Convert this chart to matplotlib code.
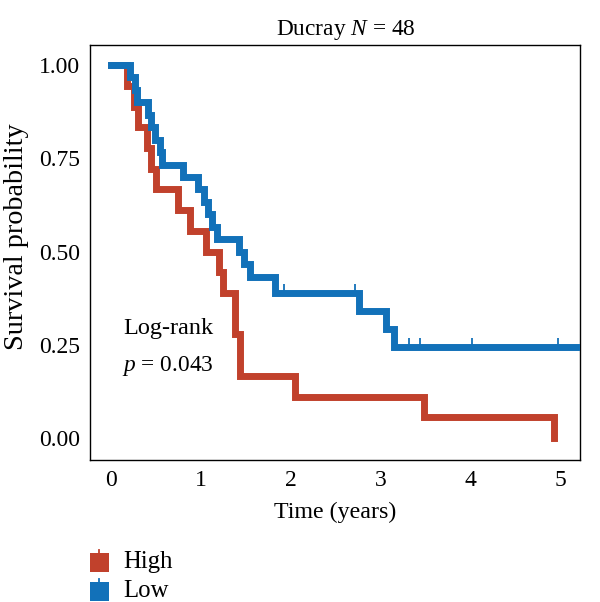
import matplotlib
matplotlib.use("Agg")
import matplotlib.pyplot as plt
from matplotlib.path import Path
from matplotlib.patches import Rectangle
import numpy as np

# Kaplan-Meier steps (time in years, survival after event)
high_times = [0.0, 0.18, 0.26, 0.30, 0.40, 0.44, 0.50, 0.75, 0.88, 1.06, 1.20, 1.25, 1.38, 1.44, 2.05, 3.48, 4.93]
high_surv  = [1.0, 0.944, 0.889, 0.833, 0.778, 0.722, 0.667, 0.611, 0.556, 0.500, 0.444, 0.389, 0.278, 0.167, 0.111, 0.056, 0.0]
high_end = 4.93

low_times = [0.0, 0.21, 0.27, 0.29, 0.41, 0.44, 0.49, 0.55, 0.57, 0.80, 0.97, 1.03, 1.08, 1.12, 1.18, 1.42, 1.48, 1.55, 1.83, 2.76, 3.06, 3.15]
low_surv  = [1.0, 0.967, 0.933, 0.900, 0.867, 0.833, 0.800, 0.767, 0.733, 0.700, 0.667, 0.633, 0.600, 0.567, 0.533, 0.500, 0.467, 0.433, 0.390, 0.341, 0.292, 0.243]
low_end = 5.5
low_censor_times = [1.92, 2.71, 3.32, 3.44, 4.02, 4.98]

group_names = ["High", "Low"]
colors = ["#C1412C", "#1271B9"]

x_ticks = [0, 1, 2, 3, 4, 5]
y_ticks = [0.0, 0.25, 0.5, 0.75, 1.0]
y_ticklabels = ["0.00", "0.25", "0.50", "0.75", "1.00"]

plt.rcParams['font.family'] = ['Liberation Serif', 'DejaVu Serif']
plt.rcParams['mathtext.fontset'] = 'custom'
plt.rcParams['mathtext.it'] = 'Liberation Serif:italic'
plt.rcParams['mathtext.rm'] = 'Liberation Serif'

fig = plt.figure(figsize=(6.0, 6.02), dpi=100)
ax = fig.add_axes([0.15, 0.2359, 0.8167, 0.6893])

def surv_at(times, surv, t):
    idx = np.searchsorted(times, t, side='right') - 1
    return surv[idx]

tick_marker = Path([(0, 0), (0, 1)], [Path.MOVETO, Path.LINETO])

for times, surv, end, col, z in [(high_times, high_surv, high_end, colors[0], 3),
                                 (low_times, low_surv, low_end, colors[1], 4)]:
    xs = list(times) + [end]
    ys = list(surv) + [surv[-1]]
    ax.step(xs, ys, where='post', color=col, lw=5.0, solid_capstyle='projecting',
            solid_joinstyle='miter', zorder=z)

cy = [surv_at(low_times, low_surv, t) for t in low_censor_times]
ax.plot(low_censor_times, cy, linestyle='none', marker=tick_marker, markersize=12.5,
        markeredgewidth=1.3, color=colors[1], zorder=3.5)

ax.set_xlim(-0.234, 5.22)
ax.set_ylim(-0.059, 1.054)
ax.set_xticks(x_ticks)
ax.set_yticks(y_ticks)
ax.set_yticklabels(y_ticklabels)
ax.tick_params(length=0, labelsize=17)
ax.tick_params(axis='y', pad=7)
ax.tick_params(axis='x', pad=7)
for s in ax.spines.values():
    s.set_linewidth(1.0)
    s.set_color('black')

ax.set_xlabel("Time (years)", fontsize=17.3, labelpad=8)
ax.set_ylabel("Survival probability", fontsize=20.3, labelpad=8)
ax.yaxis.set_label_coords(-0.125, 0.537)
ax.set_title("Ducray $N$ = 48", fontsize=16.8, pad=7, x=0.522)

ax.text(0.067, 0.318, "Log-rank", transform=ax.transAxes, fontsize=17.5, ha='left', va='center')
ax.text(0.065, 0.2265, "$p$ = 0.043", transform=ax.transAxes, fontsize=16.8, ha='left', va='center')

# legend
W, H = 600, 602
for i, (name, col) in enumerate(zip(group_names, colors)):
    ytop = 553 + i * 29
    fig.patches.append(Rectangle((90 / W, 1 - (ytop + 19) / H), 19 / W, 19 / H,
                                 transform=fig.transFigure, facecolor=col, edgecolor='none'))
    fig.lines.append(plt.Line2D([98.5 / W, 98.5 / W], [1 - (ytop - 3) / H, 1 - (ytop + 2) / H],
                                transform=fig.transFigure, color=col, lw=1.3))
    fig.text(123 / W, 1 - (ytop + 9) / H, name, fontsize=17.8, ha='left', va='center')

fig.savefig("out.png", dpi=100)
